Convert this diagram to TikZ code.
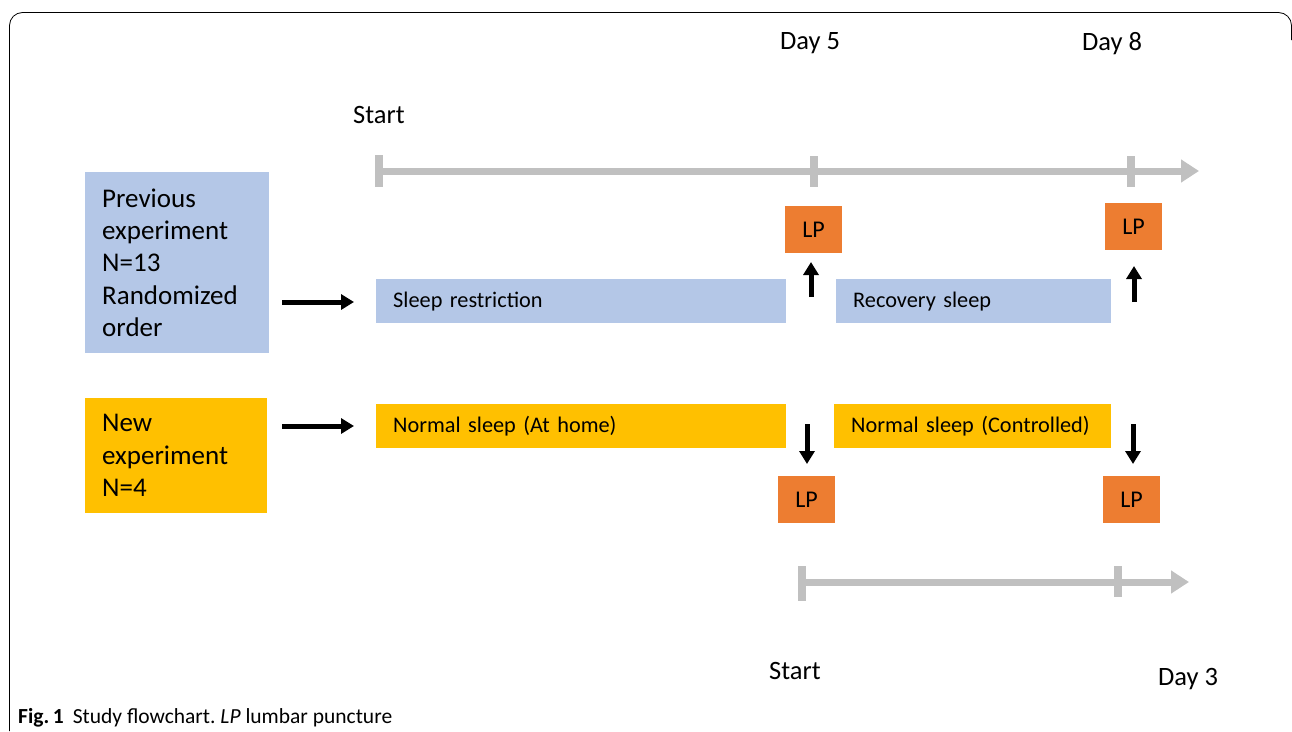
\documentclass[tikz,border=0pt]{standalone}
\usepackage{fontspec}
\setmainfont{Carlito}
\usetikzlibrary{arrows.meta}
\definecolor{tlgray}{RGB}{192,192,192}
\definecolor{pblue}{RGB}{180,199,231}
\definecolor{pyellow}{RGB}{255,192,0}
\definecolor{porange}{RGB}{237,125,49}
\frenchspacing
\begin{document}
\begin{tikzpicture}[x=1pt,y=-1pt,
  tline/.style={draw=tlgray,line width=7pt,-{Triangle[length=18pt,width=22pt]}},
  tick/.style={draw=tlgray,line width=8pt},
  blk/.style={draw=black,line width=5pt,-{Triangle[length=13pt,width=15pt]}},
  grp/.style={anchor=north west,inner ysep=0pt,inner xsep=17pt,text width=#1,align=left,font=\fontsize{27}{32.4}\selectfont},
  bar/.style={anchor=north west,inner ysep=0pt,inner xsep=17pt,minimum height=44pt,text width=#1,align=left,font=\fontsize{22.3}{26}\selectfont},
  lp/.style={fill=porange,minimum width=57pt,minimum height=47pt,inner sep=0pt,font=\fontsize{24}{28}\selectfont},
  lbl/.style={font=\fontsize{26.5}{30}\selectfont,inner sep=0pt}]
\useasboundingbox (0,0) rectangle (1292,731);
% frame
\draw[line width=0.8pt,rounded corners=13pt] (9.5,731) -- (9.5,12.5) -- (1291.5,12.5) -- (1291.5,40);
% top timeline
\coordinate (ts) at (379,171);
\coordinate (te) at (1199,171);
\draw[tline] (ts) -- (te);
\draw[tick] (379,155) -- (379,187);
\draw[tick] (814,156) -- (814,187);
\draw[tick] (1131,156) -- (1131,187);
\node[lbl] (start1) at (379,115) {Start};
\node[lbl] (day5) at (810,43) {Day 5};
\node[lbl] (day8) at (1112,44) {Day 8};
% bottom timeline
\coordinate (bs) at (802,582);
\coordinate (be) at (1189,582);
\draw[tline] (bs) -- (be);
\draw[tick] (802,566) -- (802,601);
\draw[tick] (1118,566) -- (1118,597);
\node[lbl] (start2) at (795,671) {Start};
\node[lbl] (day3) at (1188,679) {Day 3};
% group boxes
\node[grp=150pt,fill=pblue,minimum height=181pt] (prev) at (85,172) {Previous\\experiment\\N=13\\Randomized\\order};
\node[grp=148pt,fill=pyellow,minimum height=115pt] (new) at (85,398) {New\\experiment\\N=4};
% bars
\node[bar=376pt,fill=pblue] (sr) at (376,279) {Sleep restriction};
\node[bar=241pt,fill=pblue] (rs) at (836,279) {Recovery sleep};
\node[bar=376pt,fill=pyellow] (nh) at (376,404) {Normal sleep (At home)};
\node[bar=243pt,fill=pyellow] (nc) at (834,404) {Normal sleep (Controlled)};
% LP boxes
\node[lp] (lp1) at (813.5,229.5) {LP};
\node[lp] (lp2) at (1133.5,226.5) {LP};
\node[lp] (lp3) at (806.5,499.5) {LP};
\node[lp] (lp4) at (1131.5,499.5) {LP};
% black arrows
\coordinate (a1s) at (282,302); \coordinate (a1e) at (354,302);
\coordinate (a2s) at (282,426); \coordinate (a2e) at (354,426);
\draw[blk] (a1s) -- (a1e);
\draw[blk] (a2s) -- (a2e);
\coordinate (u1s) at (811,297); \coordinate (u1e) at (811,262);
\coordinate (u2s) at (1134,302); \coordinate (u2e) at (1134,266);
\draw[blk] (u1s) -- (u1e);
\draw[blk] (u2s) -- (u2e);
\coordinate (d1s) at (807,424); \coordinate (d1e) at (807,464);
\coordinate (d2s) at (1133,424); \coordinate (d2e) at (1133,464);
\draw[blk] (d1s) -- (d1e);
\draw[blk] (d2s) -- (d2e);
% caption
\node[anchor=base west,inner sep=0pt,font=\fontsize{21.5}{24}\selectfont] (cap) at (18,723) {\textbf{Fig.\,1}\hspace{9pt}Study flowchart. \textit{LP} lumbar puncture};
\end{tikzpicture}
\end{document}
